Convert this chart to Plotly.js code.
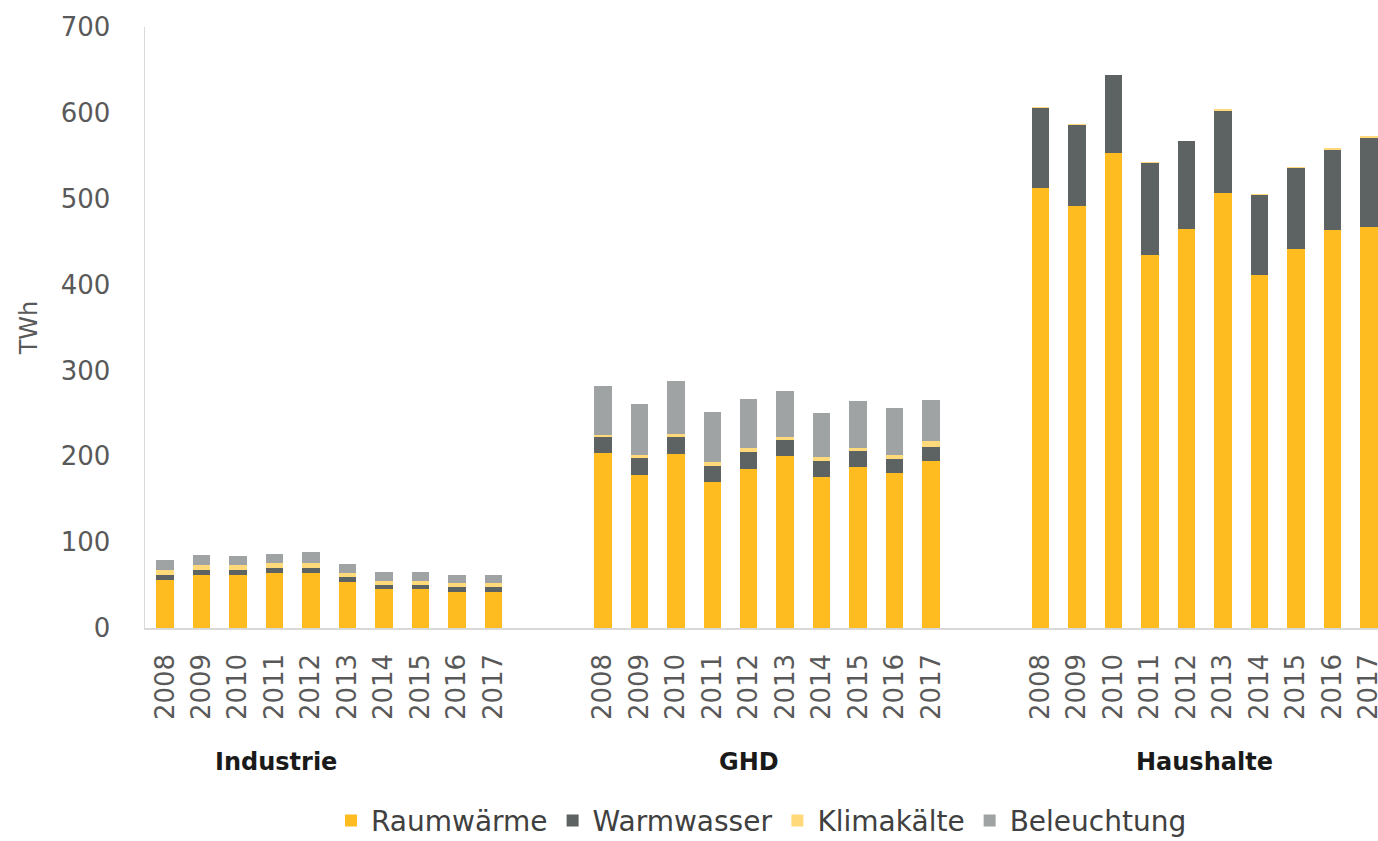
<!DOCTYPE html>
<html>
<head>
<meta charset="utf-8">
<script src="https://cdn.plot.ly/plotly-3.0.1.min.js"></script>
<style>html,body{margin:0;padding:0;background:#fff;overflow:hidden;}#chart{width:1378px;height:841px;}</style>
</head>
<body>
<div id="chart"></div>
<script>
const years = ['2008','2009','2010','2011','2012','2013','2014','2015','2016','2017'];
const sectors = ['Industrie','GHD','Haushalte'];
const seriesNames = ['Raumwärme','Warmwasser','Klimakälte','Beleuchtung'];

const raumIndustrie  = [56, 62, 62, 64, 64, 54, 45, 45, 42, 42];
const wwIndustrie    = [6, 6, 6, 6, 6, 5, 5, 5, 5.5, 5.5];
const klimaIndustrie = [5, 5, 5, 6, 6, 5, 5, 5, 5.5, 5.5];
const belIndustrie   = [12, 12, 11, 10, 12, 10, 10, 10, 9, 9];

const raumGHD  = [204, 178, 203, 170, 185, 200, 176, 188, 180, 194];
const wwGHD    = [19, 20, 19, 19, 20, 19, 19, 18, 17, 17];
const klimaGHD = [2, 4, 4, 4, 5, 3, 4, 4, 5, 7];
const belGHD   = [57, 59, 62, 59, 57, 54, 52, 54, 54, 47];

const raumHaushalte  = [512, 492, 553, 435, 465, 507, 411, 442, 463, 467];
const wwHaushalte    = [94, 94, 91, 107, 102, 95, 93, 94, 94, 104];
const klimaHaushalte = [0.5, 0.5, 0.5, 0.5, 0.5, 2, 2, 1.5, 1.5, 1.5];
const belHaushalte   = [0, 0, 0, 0, 0, 0, 0, 0, 0, 0];

const colors = ['#FFBC21', '#5D6363', '#FFD97A', '#A0A3A3'];

const seriesData = [
  [raumIndustrie, raumGHD, raumHaushalte],
  [wwIndustrie, wwGHD, wwHaushalte],
  [klimaIndustrie, klimaGHD, klimaHaushalte],
  [belIndustrie, belGHD, belHaushalte]
];

// slot positions: each sector has 10 years, separated by 2 empty slots
const groupStride = years.length + 2;
const xPos = [];
const tickText = [];
sectors.forEach((s, gi) => {
  years.forEach((y, yi) => {
    xPos.push(gi * groupStride + yi);
    tickText.push(y);
  });
});

const traces = seriesNames.map((name, si) => ({
  type: 'bar',
  name: name,
  x: xPos,
  y: [].concat(...seriesData[si]),
  marker: {color: colors[si], line: {width: 0}},
  hovertemplate: '%{y} TWh<extra>' + name + '</extra>'
}));

const groupLabelX = [3.05, 16, 28.5];
const annotations = sectors.map((s, gi) => ({
  text: '<b>' + s + '</b>',
  x: groupLabelX[gi],
  xref: 'x',
  y: -0.223,
  yref: 'paper',
  yanchor: 'middle',
  xanchor: 'center',
  showarrow: false,
  font: {family: 'DejaVu Sans', size: 24, color: '#1a1a1a'}
}));

const layout = {
  width: 1378,
  height: 841,
  margin: {l: 145, r: 0, t: 27, b: 213, autoexpand: false},
  paper_bgcolor: '#ffffff',
  plot_bgcolor: '#ffffff',
  barmode: 'stack',
  bargap: 0.52,
  font: {family: 'DejaVu Sans', color: '#595959'},
  xaxis: {
    range: [-0.55, 33.25],
    tickmode: 'array',
    tickvals: xPos,
    ticktext: tickText,
    tickangle: -90,
    ticks: '',
    showgrid: false,
    zeroline: false,
    showline: true,
    linecolor: '#d9d9d9',
    linewidth: 1.5,
    tickfont: {family: 'DejaVu Sans', size: 26, color: '#595959'},
    ticklabelstandoff: 14,
    ticklabeloverflow: 'allow',
    automargin: false
  },
  yaxis: {
    range: [0, 700],
    dtick: 100,
    ticks: '',
    showgrid: false,
    zeroline: false,
    showline: true,
    linecolor: '#d9d9d9',
    linewidth: 1.5,
    tickfont: {family: 'DejaVu Sans', size: 26, color: '#595959'},
    ticklabelstandoff: 28,
    title: {text: 'TWh', font: {family: 'DejaVu Sans', size: 24, color: '#595959'}, standoff: 16},
    automargin: false
  },
  legend: {
    orientation: 'h',
    x: 0.5,
    xanchor: 'center',
    y: -0.279,
    yanchor: 'top',
    traceorder: 'normal',
    font: {family: 'DejaVu Sans', size: 28, color: '#404040'},
    itemwidth: 30
  },
  annotations: annotations,
  showlegend: true
};

Plotly.newPlot('chart', traces, layout, {displayModeBar: false, staticPlot: true});
</script>
</body>
</html>
